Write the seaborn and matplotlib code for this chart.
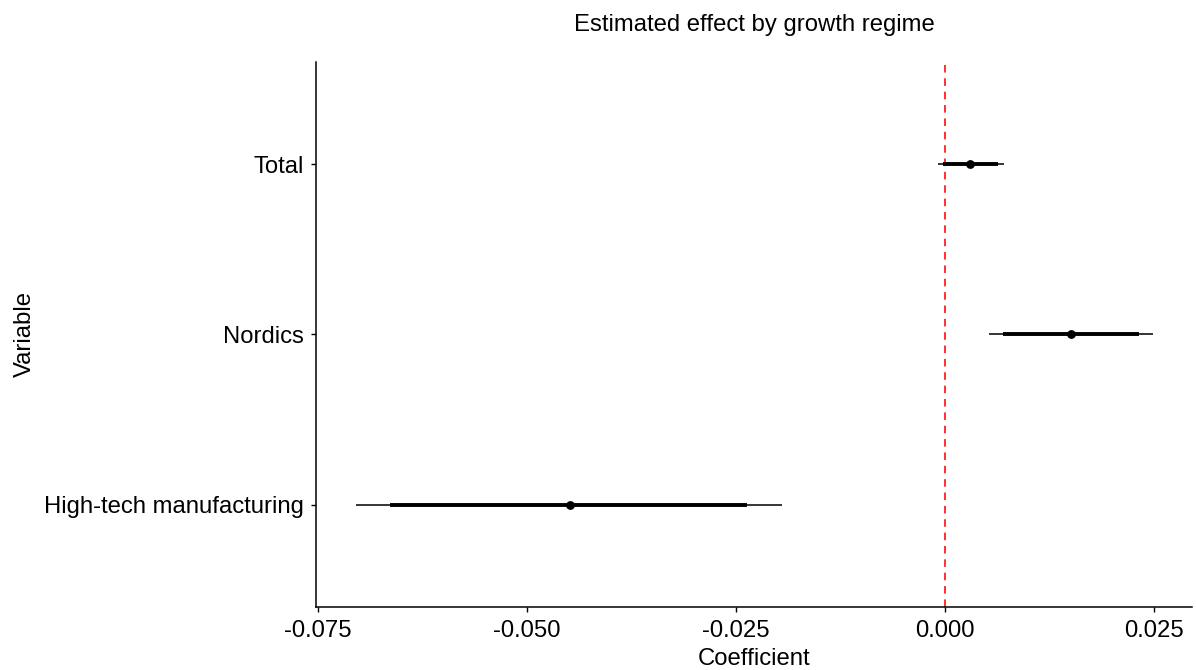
import matplotlib
matplotlib.use("Agg")
import matplotlib.pyplot as plt
import seaborn as sns
import pandas as pd

# Data
variables = ["Total", "Nordics", "High-tech manufacturing"]
estimate = [0.0030, 0.0150, -0.0449]
ci_inner_low = [-0.0003, 0.0069, -0.0663]
ci_inner_high = [0.0063, 0.0232, -0.0237]
ci_outer_low = [-0.0009, 0.0052, -0.0704]
ci_outer_high = [0.0070, 0.0248, -0.0195]
xticks = [-0.075, -0.050, -0.025, 0.000, 0.025]
xtick_labels = ["-0.075", "-0.050", "-0.025", "0.000", "0.025"]

df = pd.DataFrame({
    "Variable": variables,
    "Coefficient": estimate,
    "lo90": ci_inner_low, "hi90": ci_inner_high,
    "lo95": ci_outer_low, "hi95": ci_outer_high,
})

sns.set_theme(style="white")
plt.rcParams["font.family"] = ["Liberation Sans", "DejaVu Sans"]

fig = plt.figure(figsize=(11.96, 6.70), dpi=100)
ax = fig.add_axes([0.2642, 0.094, 0.7325, 0.8135])

sns.pointplot(data=df, x="Coefficient", y="Variable", order=variables,
              orient="h", linestyle="none", errorbar=None, color="black",
              markers="o", markersize=4.3, ax=ax, zorder=5)

pos = list(range(len(variables)))
ax.hlines(pos, df["lo95"], df["hi95"], color="black", linewidth=1.1, zorder=3)
ax.hlines(pos, df["lo90"], df["hi90"], color="black", linewidth=2.8, zorder=4)

ax.axvline(0, color="#ff2020", linestyle=(0, (4.2, 3.2)), linewidth=1.3, zorder=2)

ax.set_xlim(-0.0752, 0.0295)
ax.set_ylim(2.6, -0.6)
ax.set_xticks(xticks)
ax.set_xticklabels(xtick_labels)

for s in ["top", "right"]:
    ax.spines[s].set_visible(False)
for s in ["left", "bottom"]:
    ax.spines[s].set_color("black")
    ax.spines[s].set_linewidth(1.1)

ax.tick_params(axis="both", which="both", direction="out", length=3.5, width=1.0,
               color="black", labelsize=17.2, labelcolor="black", pad=5,
               bottom=True, left=True)
ax.tick_params(axis="x", pad=6)

ax.set_xlabel("Coefficient", fontsize=17.2, color="black", labelpad=4)
ax.set_ylabel("Variable", fontsize=17.2, color="black", labelpad=6)
ax.set_title("Estimated effect by growth regime", fontsize=17.2, color="black", pad=22)

fig.savefig("out.png", dpi=100, facecolor="white")
